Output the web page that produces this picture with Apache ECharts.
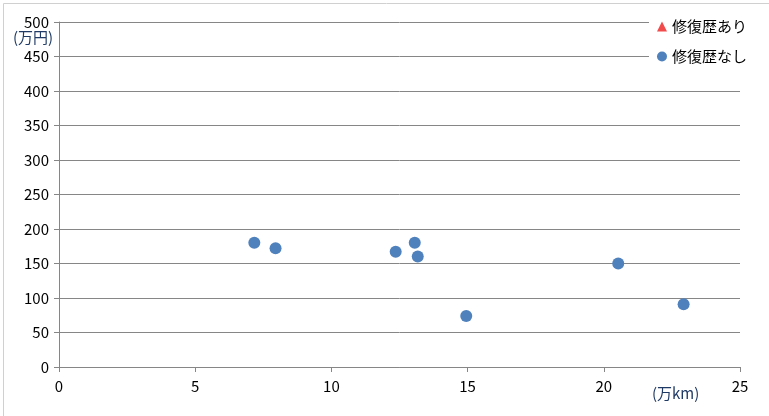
<!DOCTYPE html>
<html><head><meta charset="utf-8">
<script src="https://cdn.jsdelivr.net/npm/echarts@6/dist/echarts.min.js"></script>
<style>html,body{margin:0;padding:0;background:#fff}#c{width:769px;height:416px}</style>
</head><body><div id="c"></div>
<script>
var seriesNames = ['修復歴あり', '修復歴なし'];
var repairedData = [];
var mileage = [7.17, 7.95, 12.36, 13.06, 13.17, 14.95, 20.53, 22.93];
var price = [180, 172, 167, 180, 160, 74, 150, 91];
var yUnit = '(万円)';
var xUnit = '(万km)';

var noRepairData = mileage.map(function (m, i) { return [m, price[i]]; });
var chart = echarts.init(document.getElementById('c'));
var font = '"Noto Sans CJK JP", "Liberation Sans", sans-serif';
chart.setOption({
  animation: false,
  grid: { left: 59, right: 29, top: 22, bottom: 49, containLabel: false },
  xAxis: {
    type: 'value', min: 0, max: 25, interval: 5,
    axisLine: { show: true, lineStyle: { color: '#868686' } },
    axisTick: { show: true, length: 5, lineStyle: { color: '#868686' } },
    splitLine: { show: false },
    axisLabel: { color: '#000', fontSize: 15, fontFamily: font, margin: 12 }
  },
  yAxis: {
    type: 'value', min: 0, max: 500, interval: 50,
    axisLine: { show: true, lineStyle: { color: '#868686' } },
    axisTick: { show: true, length: 5, lineStyle: { color: '#868686' } },
    splitLine: { show: true, lineStyle: { color: '#868686' } },
    axisLabel: { color: '#000', fontSize: 15, fontFamily: font, margin: 10 }
  },
  legend: {
    orient: 'vertical', right: 18, top: 17, itemGap: 15,
    backgroundColor: '#fff', padding: [2, 4, 2, 8],
    itemWidth: 10, itemHeight: 10,
    textStyle: { fontSize: 15, fontFamily: font, color: '#000' },
    data: [
      { name: seriesNames[0], icon: 'triangle' },
      { name: seriesNames[1], icon: 'circle' }
    ]
  },
  graphic: [
    { type: 'rect', left: 1, top: 1, shape: { width: 766, height: 413 }, style: { fill: 'none', stroke: '#d0d0d0', lineWidth: 1 }, silent: true },
    { type: 'text', left: 13, top: 30, style: { text: yUnit, fontSize: 15, fontFamily: font, fill: '#1f3a64' } },
    { type: 'text', left: 652, top: 386, style: { text: xUnit, fontSize: 15, fontFamily: font, fill: '#1f3a64' } }
  ],
  series: [
    { name: seriesNames[0], type: 'scatter', symbol: 'triangle', symbolSize: 11, itemStyle: { color: '#f24b4b', opacity: 1 }, data: repairedData },
    { name: seriesNames[1], type: 'scatter', symbol: 'circle', symbolSize: 12, itemStyle: { color: '#4f81bd', opacity: 1 }, data: noRepairData }
  ]
});
</script></body></html>
